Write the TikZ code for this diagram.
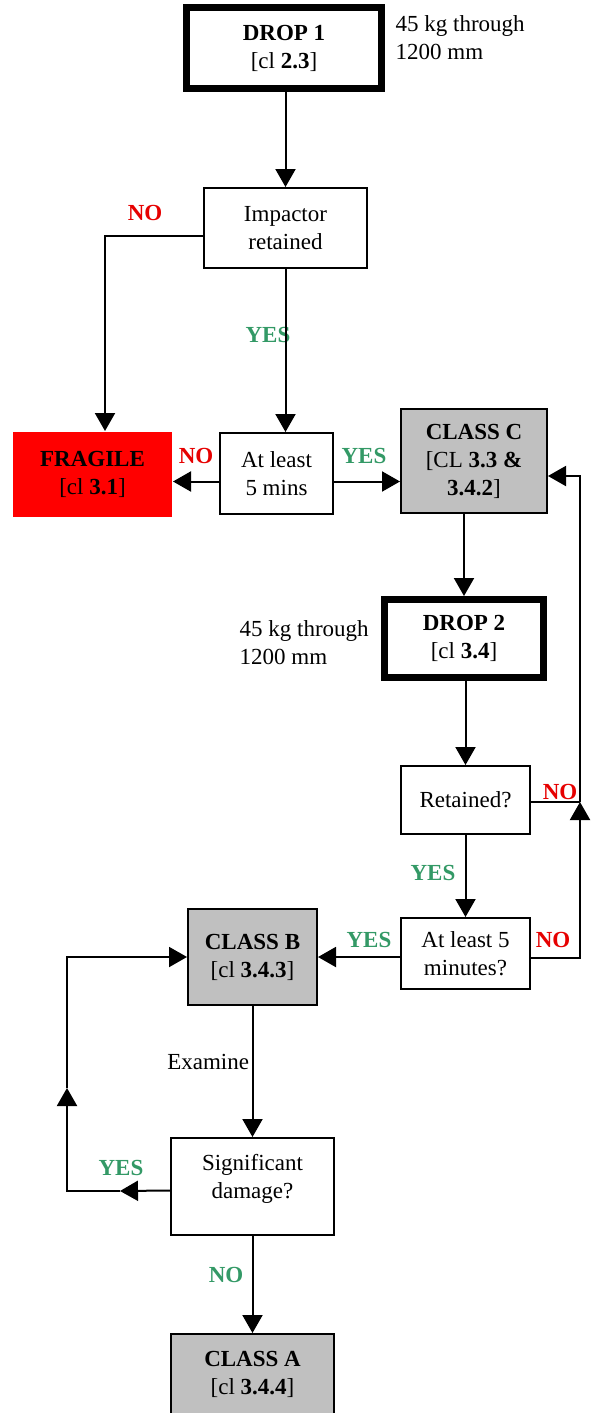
\documentclass[tikz,border=0pt]{standalone}
\usepackage{fontspec}
\setmainfont{Liberation Serif}
\usetikzlibrary{arrows.meta}
\definecolor{yesgreen}{RGB}{51,153,102}
\definecolor{nored}{RGB}{230,0,0}
\definecolor{classgrey}{RGB}{192,192,192}
\begin{document}
\begin{tikzpicture}[x=0.5pt, y=-0.5pt, >={Triangle[length=9pt,width=10pt]}, line width=1pt,
    font=\fontsize{11.5}{14}\selectfont,
    box/.style={draw, rectangle, inner sep=0pt, align=center, line width=1pt},
    dropbox/.style={box, line width=3.5pt},
    classbox/.style={box, fill=classgrey},
    yes/.style={text=yesgreen, font=\fontsize{11.5}{14}\selectfont\bfseries},
    no/.style={text=nored, font=\fontsize{11.5}{14}\selectfont\bfseries}]
    \useasboundingbox (0,0) rectangle (594,1413);

    \node (drop1) [dropbox, minimum width=97.5pt, minimum height=40.5pt] at (284,48) {\textbf{DROP 1}\\{}[cl \textbf{2.3}]};
    \node (note1) [anchor=west, align=left] at (388,38) {45 kg through\\1200 mm};
    \node (imp) [box, minimum width=81.5pt, minimum height=40pt] at (285.5,228) {Impactor\\retained};
    \node (fragile) [box, draw=none, fill=red, minimum width=79.5pt, minimum height=42.5pt] at (92.5,474.5) {\textbf{FRAGILE}\\{}[cl \textbf{3.1}]};
    \node (least1) [box, minimum width=56.5pt, minimum height=40.5pt] at (276.5,473.5) {At least\\5 mins};
    \node (classC) [classbox, minimum width=73pt, minimum height=52pt] at (474,461) {\textbf{CLASS C}\\{}[CL \textbf{3.3 \&}\\\textbf{3.4.2}]};
    \node (drop2) [dropbox, minimum width=79.5pt, minimum height=39pt] at (464,638.5) {\textbf{DROP 2}\\{}[cl \textbf{3.4}]};
    \node (note2) [anchor=west, align=left] at (232,643) {45 kg through\\1200 mm};
    \node (ret) [box, minimum width=64.5pt, minimum height=34pt] at (465.5,800) {Retained?};
    \node (least2) [box, minimum width=64.5pt, minimum height=35.5pt] at (465.5,953.5) {At least 5\\minutes?};
    \node (classB) [classbox, minimum width=64.5pt, minimum height=48pt] at (252.5,957) {\textbf{CLASS B}\\{}[cl \textbf{3.4.3}]};
    \node (sig) [box, minimum width=81.5pt, minimum height=48.5pt] at (252.5,1186.5) {Significant\\damage?\\[-4pt]};
    \node (classA) [classbox, minimum width=81.5pt, minimum height=40.5pt] at (252.5,1374.5) {\textbf{CLASS A}\\{}[cl \textbf{3.4.4}]};

    % Labels
    \node (imp_no) [no] at (145,213) {NO};
    \node (imp_yes) [yes] at (268,335) {YES};
    \node (least_no) [no] at (196,456) {NO};
    \node (least_yes) [yes] at (364,456) {YES};
    \node (ret_no) [no] at (560,792) {NO};
    \node (ret_yes) [yes] at (433,873) {YES};
    \node (least2_yes) [yes] at (369,940) {YES};
    \node (least2_no) [no] at (553,940) {NO};
    \node (examine) [anchor=east, inner sep=0pt] at (250,1062) {Examine};
    \node (sig_yes) [yes] at (121,1168) {YES};
    \node (sig_no) [yes] at (226,1275) {NO};

    \coordinate (rejoin) at (580,802);
    \coordinate (yesmid) at (120,1191);
    \coordinate (loopup) at (67,1088);

    % Arrows
    \draw [->] (drop1.south -| imp.north) -- (imp.north);
    \draw [->] ([yshift=-4pt]imp.west) -| ([xshift=6.25pt]fragile.north);
    \draw [->] (imp.south) -- (imp.south |- least1.north);
    \draw [->] ([yshift=-4pt]least1.west) -- ([yshift=-4pt]least1.west -| fragile.east);
    \draw [->] ([yshift=-4pt]least1.east) -- ([yshift=-4pt]least1.east -| classC.west);
    \draw [->] (classC.south -| drop2.north) -- (drop2.north);
    \draw [->] (drop2.south -| ret.north) -- (ret.north);
    \draw (ret.east |- rejoin) -- (rejoin);
    \draw [->] (rejoin) |- ([yshift=-7.5pt]classC.east);
    \draw [->] (ret.south) -- (least2.north);
    \draw [->] ([yshift=-2pt]least2.east) -| (rejoin);
    \draw [->] (least2.west |- classB.east) -- (classB.east);
    \draw [->] (classB.south) -- (sig.north);
    \draw [->] ([yshift=-2pt]sig.west) -- (yesmid);
    \draw [->] (yesmid) -| (loopup);
    \draw [->] (loopup) |- (classB.west);
    \draw [->] (sig.south) -- (classA.north);
\end{tikzpicture}
\end{document}
